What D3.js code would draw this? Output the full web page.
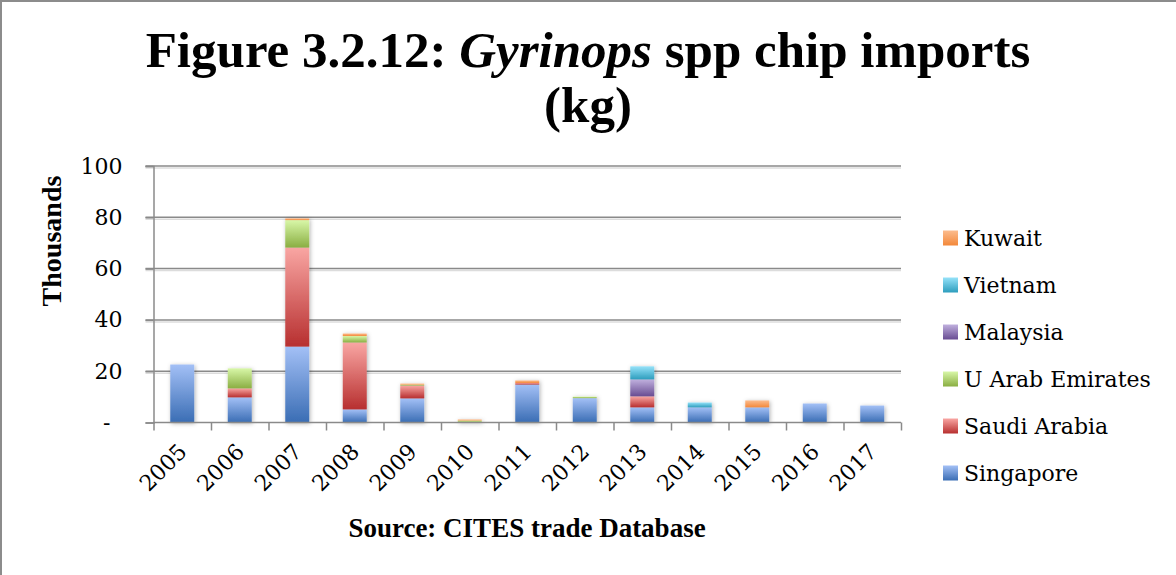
<!DOCTYPE html>
<html>
<head>
<meta charset="utf-8">
<script src="https://cdn.jsdelivr.net/npm/d3@7"></script>
<style>
  body { margin: 0; background: #fff; }
  text { white-space: pre; }
</style>
</head>
<body>
<script>
// data, in thousands of kg
const years = ["2005", "2006", "2007", "2008", "2009", "2010", "2011", "2012", "2013", "2014", "2015", "2016", "2017"];
const singapore = [22.6, 9.8, 29.6, 5.1, 9.4, 0, 14.8, 9.5, 5.9, 5.9, 5.9, 7.4, 6.6];
const saudiArabia = [0, 3.5, 38.6, 26.1, 5.0, 0, 0.6, 0, 4.3, 0, 0, 0, 0];
const uae = [0, 7.8, 10.7, 2.5, 0.4, 0.8, 0, 0.6, 0, 0, 0, 0, 0];
const malaysia = [0, 0, 0, 0, 0, 0, 0, 0, 6.6, 0, 0, 0, 0];
const vietnam = [0, 0, 0, 0, 0, 0, 0, 0, 5.1, 1.9, 0, 0, 0];
const kuwait = [0, 0, 0.7, 1.0, 0.4, 0.4, 1.0, 0, 0, 0, 2.7, 0, 0];
const yTicks = [0, 20, 40, 60, 80, 100];

const keys = ["Singapore", "Saudi Arabia", "U Arab Emirates", "Malaysia", "Vietnam", "Kuwait"];
const valuesByKey = {
    "Singapore": singapore,
    "Saudi Arabia": saudiArabia,
    "U Arab Emirates": uae,
    "Malaysia": malaysia,
    "Vietnam": vietnam,
    "Kuwait": kuwait
};
// gradient colours, top -> bottom
const colours = {
    "Singapore": ["#a3c0f6", "#3a6db4"],
    "Saudi Arabia": ["#f9a6a3", "#b72f2f"],
    "U Arab Emirates": ["#d8f7a8", "#8aae42"],
    "Malaysia": ["#c0b0de", "#684c92"],
    "Vietnam": ["#95e2f9", "#2d9dbd"],
    "Kuwait": ["#fcbc8e", "#f3883a"]
};

const rows = years.map((yr, i) => {
    const r = {year: yr};
    keys.forEach(k => r[k] = valuesByKey[k][i]);
    return r;
});

const W = 1176, H = 575;
const plotLeft = 153.5, plotRight = 901, plotTop = 166, plotBottom = 422.5;

const svg = d3.select("body").append("svg")
    .attr("width", W)
    .attr("height", H);

const defs = svg.append("defs");
keys.forEach((k, i) => {
    const g = defs.append("linearGradient")
        .attr("id", "grad" + i)
        .attr("x1", 0).attr("y1", 0).attr("x2", 0).attr("y2", 1);
    g.append("stop").attr("offset", "0%").attr("stop-color", colours[k][0]);
    g.append("stop").attr("offset", "100%").attr("stop-color", colours[k][1]);
});
const shadow = defs.append("filter").attr("id", "shadow")
    .attr("x", "-30%").attr("y", "-10%").attr("width", "160%").attr("height", "130%");
shadow.append("feDropShadow")
    .attr("dx", 1).attr("dy", 1).attr("stdDeviation", 2)
    .attr("flood-color", "#000").attr("flood-opacity", 0.3);

// border (top and left only)
svg.append("path")
    .attr("d", `M1,${H} V1 H${W}`)
    .attr("fill", "none")
    .attr("stroke", "#8c8c8c")
    .attr("stroke-width", 2);

// title
const title = svg.append("text")
    .attr("x", 588).attr("y", 67)
    .attr("text-anchor", "middle")
    .style("font-family", "'Liberation Serif', serif")
    .style("font-weight", "bold")
    .style("font-size", "51px");
title.append("tspan").text("Figure 3.2.12: ");
title.append("tspan").style("font-style", "italic").text("Gyrinops");
title.append("tspan").text(" spp chip imports");
svg.append("text")
    .attr("x", 588).attr("y", 122)
    .attr("text-anchor", "middle")
    .style("font-family", "'Liberation Serif', serif")
    .style("font-weight", "bold")
    .style("font-size", "51px")
    .text("(kg)");

// scales
const x = d3.scaleBand().domain(years).range([plotLeft, plotRight])
    .paddingInner(0.583).paddingOuter(0.2915);
const y = d3.scaleLinear().domain([0, 100]).range([plotBottom, plotTop]);
const xEdges = d3.scaleLinear().domain([0, years.length]).range([plotLeft, plotRight]);

// gridlines
const grid = svg.append("g");
grid.selectAll("line.shade").data(yTicks.slice(1)).join("line")
    .attr("class", "shade")
    .attr("x1", plotLeft - 8).attr("x2", plotRight)
    .attr("y1", d => y(d) + 2).attr("y2", d => y(d) + 2)
    .attr("stroke", "#dcdcdc").attr("stroke-width", 1.5);
grid.selectAll("line.main").data(yTicks.slice(1)).join("line")
    .attr("class", "main")
    .attr("x1", plotLeft - 8).attr("x2", plotRight)
    .attr("y1", d => y(d)).attr("y2", d => y(d))
    .attr("stroke", "#8a8a8a").attr("stroke-width", 1.5);

// bars
const stacked = d3.stack().keys(keys)(rows);
const barsG = svg.append("g").attr("filter", "url(#shadow)");
barsG.selectAll("g").data(stacked).join("g")
    .attr("fill", (d, i) => `url(#grad${i})`)
    .selectAll("rect")
    .data(d => d.filter(p => p[1] - p[0] > 0))
    .join("rect")
    .attr("x", d => x(d.data.year))
    .attr("width", x.bandwidth())
    .attr("y", d => y(d[1]))
    .attr("height", d => y(d[0]) - y(d[1]));

// y axis
const yAxis = svg.append("g")
    .attr("transform", `translate(${plotLeft},0)`)
    .call(d3.axisLeft(y).tickValues(yTicks).tickSize(8).tickPadding(23)
        .tickFormat(d => d === 0 ? "-" : d));
yAxis.selectAll("path, line").attr("stroke", "#8a8a8a").attr("stroke-width", 1.5);
yAxis.selectAll("text")
    .attr("fill", "#000")
    .style("font-family", "'DejaVu Serif', serif")
    .style("font-size", "22px")
    .attr("dx", d => d === 0 ? -12 : 0);

// x axis: ticks between categories
const xAxis = svg.append("g")
    .attr("transform", `translate(0,${plotBottom})`)
    .call(d3.axisBottom(xEdges).ticks(years.length).tickSize(8).tickFormat(""));
xAxis.select(".domain").attr("d", `M${plotLeft},0H${plotRight}`);
xAxis.selectAll("path, line").attr("stroke", "#8a8a8a").attr("stroke-width", 1.5);

svg.append("g").selectAll("text").data(years).join("text")
    .attr("transform", d => `translate(${x(d) + x.bandwidth() / 2 + 6},453) rotate(-45)`)
    .attr("text-anchor", "end")
    .style("font-family", "'DejaVu Serif', serif")
    .style("font-size", "22px")
    .text(d => d);

// axis titles
svg.append("text")
    .attr("transform", "translate(61,241) rotate(-90)")
    .attr("text-anchor", "middle")
    .style("font-family", "'Liberation Serif', serif")
    .style("font-weight", "bold")
    .style("font-size", "28px")
    .text("Thousands");

svg.append("text")
    .attr("x", 527).attr("y", 537)
    .attr("text-anchor", "middle")
    .style("font-family", "'Liberation Serif', serif")
    .style("font-weight", "bold")
    .style("font-size", "27px")
    .text("Source: CITES trade Database");

// legend
const legendKeys = keys.slice().reverse();
const legend = svg.append("g").selectAll("g").data(legendKeys).join("g")
    .attr("transform", (d, i) => `translate(943,${238 + i * 47})`);
legend.append("rect")
    .attr("x", 0).attr("y", -7.5)
    .attr("width", 15).attr("height", 15)
    .attr("fill", d => `url(#grad${keys.indexOf(d)})`);
legend.append("text")
    .attr("x", 21).attr("y", 0)
    .attr("dy", "0.35em")
    .style("font-family", "'DejaVu Serif', serif")
    .style("font-size", "22px")
    .text(d => d);
</script>
</body>
</html>
